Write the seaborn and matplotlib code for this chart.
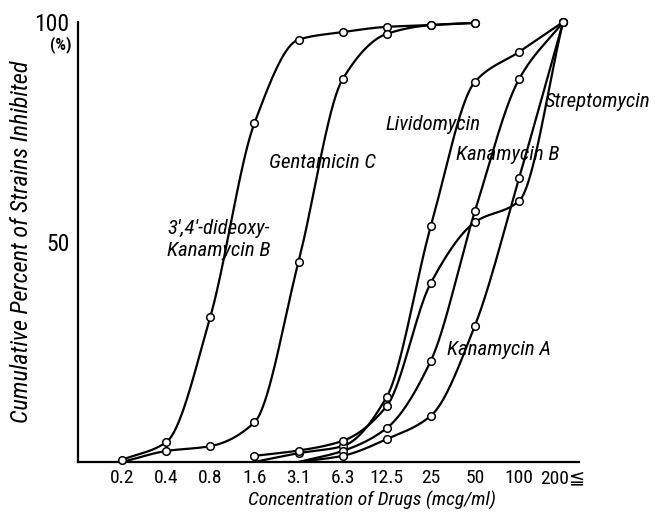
import numpy as np
import pandas as pd
import matplotlib
matplotlib.use("Agg")
import matplotlib.pyplot as plt
import seaborn as sns

# ---- data ----
conc_labels = ["0.2", "0.4", "0.8", "1.6", "3.1", "6.3", "12.5", "25", "50", "100", "200≦"]
dideoxy_kanb = [0.5, 4.5, 33, 77, 96, 97.7, 98.9, 99.3, 99.8, None, None]
gentamicin_c = [0, 2.5, 3.6, 9, 45.5, 87, 97.3, 99.3, 99.8, None, None]
lividomycin = [None, None, None, 0, 2.0, 3.6, 14.8, 53.6, 86.4, 93.2, 100]
streptomycin = [None, None, None, 1.4, 2.6, 4.8, 12.7, 40.7, 54.5, 59.3, 100]
kanamycin_b = [None, None, None, None, 0, 2.5, 7.7, 23, 57, 87, 100]
kanamycin_a = [None, None, None, None, 0, 1.4, 5.2, 10.5, 31, 64.5, 100]

series = {
    "3',4'-dideoxy-Kanamycin B": dideoxy_kanb,
    "Gentamicin C": gentamicin_c,
    "Lividomycin": lividomycin,
    "Streptomycin": streptomycin,
    "Kanamycin B": kanamycin_b,
    "Kanamycin A": kanamycin_a,
}


def pchip(x, y, xs):
    x = np.asarray(x, float)
    y = np.asarray(y, float)
    h = np.diff(x)
    d = np.diff(y) / h
    n = len(x)
    m = np.zeros(n)
    m[0] = d[0]
    m[-1] = d[-1]
    for k in range(1, n - 1):
        if d[k - 1] * d[k] <= 0:
            m[k] = 0
        else:
            w1 = 2 * h[k] + h[k - 1]
            w2 = h[k] + 2 * h[k - 1]
            m[k] = (w1 + w2) / (w1 / d[k - 1] + w2 / d[k])
    out = np.empty_like(xs)
    for i, xv in enumerate(xs):
        k = min(max(np.searchsorted(x, xv) - 1, 0), n - 2)
        t = (xv - x[k]) / h[k]
        h00 = 2 * t**3 - 3 * t**2 + 1
        h10 = t**3 - 2 * t**2 + t
        h01 = -2 * t**3 + 3 * t**2
        h11 = t**3 - t**2
        out[i] = h00 * y[k] + h10 * h[k] * m[k] + h01 * y[k + 1] + h11 * h[k] * m[k + 1]
    return out


sns.set_style("white")
plt.rcParams["font.family"] = ["Roboto Condensed", "DejaVu Sans"]
for key in ("text.color", "axes.labelcolor", "xtick.color", "ytick.color"):
    plt.rcParams[key] = "black"

fig = plt.figure(figsize=(6.55, 5.14), dpi=100)
ax = fig.add_axes([78 / 655, 52 / 514, 501 / 655, 440 / 514])

pos = np.arange(len(conc_labels))
curve_rows = []
pt_rows = []
for name, vals in series.items():
    xs = [p for p, v in zip(pos, vals) if v is not None]
    ys = [v for v in vals if v is not None]
    xd = np.linspace(xs[0], xs[-1], 300)
    yd = np.clip(pchip(xs, ys, xd), 0, 100)
    for a, b in zip(xd, yd):
        curve_rows.append((name, a, b))
    for a, b in zip(xs, ys):
        if b > 0:
            pt_rows.append((name, a, b))

curves = pd.DataFrame(curve_rows, columns=["drug", "x", "y"])
pts = pd.DataFrame(pt_rows, columns=["drug", "x", "y"])

sns.lineplot(data=curves, x="x", y="y", units="drug", estimator=None,
             color="black", linewidth=1.6, sort=False, ax=ax, legend=False)
sns.scatterplot(data=pts, x="x", y="y", s=30, facecolor="white",
                edgecolor="black", linewidth=1.1, zorder=5, ax=ax, legend=False,
                clip_on=False)

ax.set_xlim(-1, 10.36)
ax.set_ylim(0, 100)
sns.despine(ax=ax)
for s in ("left", "bottom"):
    ax.spines[s].set_linewidth(1.6)
    ax.spines[s].set_color("black")

ax.set_xticks(pos)
ax.set_xticklabels(conc_labels, fontsize=14)
ax.set_yticks(np.arange(0, 101, 10))
ax.set_yticklabels(["" if v not in (50, 100) else str(v) for v in range(0, 101, 10)],
                   fontsize=17)
ax.tick_params(axis="both", direction="in", length=7, width=1.3, color="black")
ax.tick_params(axis="x", pad=5)
ax.tick_params(axis="y", pad=6)
ax.text(-1.14, 94.8, "(%)", fontsize=12, ha="right", va="center", fontweight="bold")

ax.set_xlabel("Concentration of Drugs (mcg/ml)", fontsize=14, style="italic")
ax.xaxis.set_label_coords(0.587, -0.066)
ax.set_ylabel("Cumulative Percent of Strains Inhibited", fontsize=17.5, style="italic")
ax.yaxis.set_label_coords(-0.09, 0.5)

lab = dict(fontsize=15, style="italic", ha="center", va="center", clip_on=False)
ax.text(2.18, 53, "3',4'-dideoxy-", **lab)
ax.text(2.18, 48, "Kanamycin B", **lab)
ax.text(4.55, 68, "Gentamicin C", **lab)
ax.text(7.05, 76.6, "Lividomycin", **lab)
ax.text(8.75, 69.8, "Kanamycin B", **lab)
ax.text(10.77, 82, "Streptomycin", **lab)
ax.text(8.55, 25.5, "Kanamycin A", **lab)

fig.savefig("out.png", dpi=100)
